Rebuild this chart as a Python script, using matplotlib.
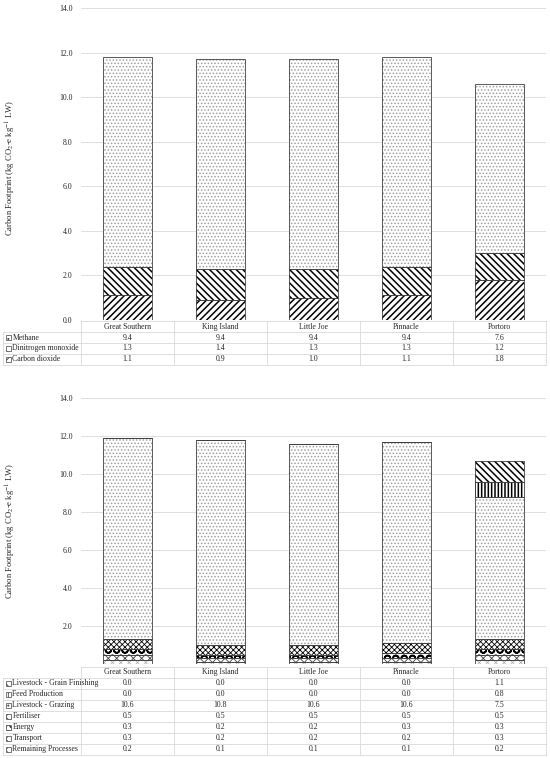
import numpy as np
import matplotlib.pyplot as plt
from matplotlib.lines import Line2D
from matplotlib.patches import Rectangle

sites = ["Great Southern", "King Island", "Little Joe", "Pinnacle", "Portoro"]

# top chart: gases (stack order bottom -> top)
gas_names = ["Carbon dioxide", "Dinitrogen monoxide", "Methane"]
carbon_dioxide = [1.1, 0.9, 1.0, 1.1, 1.8]
dinitrogen_monoxide = [1.3, 1.4, 1.3, 1.3, 1.2]
methane = [9.4, 9.4, 9.4, 9.4, 7.6]

# bottom chart: processes (stack order bottom -> top)
proc_names = ["Remaining Processes", "Transport", "Energy", "Fertiliser",
              "Livestock - Grazing", "Feed Production", "Livestock - Grain Finishing"]
remaining = [0.2, 0.1, 0.1, 0.1, 0.2]
transport = [0.3, 0.2, 0.2, 0.2, 0.3]
energy = [0.3, 0.2, 0.2, 0.3, 0.3]
fertiliser = [0.5, 0.5, 0.5, 0.5, 0.5]
grazing = [10.6, 10.8, 10.6, 10.6, 7.5]
feed = [0.0, 0.0, 0.0, 0.0, 0.8]
grain_finishing = [0.0, 0.0, 0.0, 0.0, 1.1]

yticks = [0, 2, 4, 6, 8, 10, 12, 14]

plt.rcParams['font.family'] = ['Liberation Serif', 'DejaVu Serif']
plt.rcParams['mathtext.fontset'] = 'stix'
TXT = '#262626'
GRID = '#d9d9d9'
W, H = 550, 758
FS = 5.6

fig = plt.figure(figsize=(5.5, 7.58), dpi=100)

def fx(px):
    return px / W

def fy(py):
    return 1 - py / H

# hatch styles: (hatch, hatch colour, hatch linewidth)
gas_styles = [('/////', 'black', 1.1), ('\\\\\\\\\\', 'black', 1.1), ('.....', '#a0a0a0', 0.7)]
proc_styles = [('xxxx', '#a8a8a8', 0.5), ('xxxx', '#404040', 0.6), ('OO', 'black', 1.2),
               ('xxxxxx', 'black', 0.6), ('.....', '#a0a0a0', 0.7),
               ('|||||', 'black', 1.1), ('\\\\\\\\\\', 'black', 1.1)]

col_x0 = 81
col_w = 93
left_x0 = 3


def stacked(ax, series, styles):
    x = np.arange(len(sites))
    bottom = np.zeros(len(sites))
    for vals, (h, hc, lw) in zip(series, styles):
        vals = np.array(vals)
        plt.rcParams['hatch.linewidth'] = lw
        ax.bar(x, vals, 0.52, bottom=bottom, color='white', edgecolor=hc,
               hatch=h, linewidth=0, zorder=2)
        ax.bar(x, vals, 0.52, bottom=bottom, fill=False, edgecolor='#404040',
               linewidth=0.6, zorder=3)
        bottom += vals
    ax.set_xlim(-0.5, len(sites) - 0.5)
    ax.set_ylim(0, 14)
    ax.set_yticks(yticks)
    ax.set_yticklabels([f"{v:.1f}" for v in yticks])
    ax.set_xticks([])
    ax.tick_params(axis='y', length=0, labelsize=FS, labelcolor=TXT, pad=6)
    ax.grid(axis='y', color=GRID, linewidth=0.6, zorder=0)
    ax.set_axisbelow(True)
    for s in ax.spines.values():
        s.set_visible(False)


def table(top_px, row_h, names, series, styles):
    right = col_x0 + col_w * len(sites)
    n = len(names)
    hy = top_px
    fig.add_artist(Line2D([fx(col_x0), fx(right)], [fy(hy), fy(hy)], color=GRID, lw=0.6))
    for i, s in enumerate(sites):
        fig.text(fx(col_x0 + col_w * (i + 0.5)), fy(hy + row_h / 2), s,
                 ha='center', va='center', fontsize=FS, color=TXT)
    bottom_px = top_px + row_h * (n + 1)
    for k in range(n + 1):
        yy = top_px + row_h * (k + 1)
        fig.add_artist(Line2D([fx(left_x0), fx(right)], [fy(yy), fy(yy)], color=GRID, lw=0.6))
    for i in range(len(sites) + 1):
        xx = col_x0 + col_w * i
        fig.add_artist(Line2D([fx(xx), fx(xx)], [fy(top_px), fy(bottom_px)], color=GRID, lw=0.6))
    fig.add_artist(Line2D([fx(left_x0), fx(left_x0)], [fy(top_px + row_h), fy(bottom_px)],
                          color=GRID, lw=0.6))
    # rows listed top -> bottom in reverse stack order
    for r, idx in enumerate(range(n - 1, -1, -1)):
        cy = top_px + row_h * (r + 1.5)
        h, hc, lw = styles[idx]
        plt.rcParams['hatch.linewidth'] = min(lw, 0.6)
        key = Rectangle((fx(6), fy(cy + 2.5)), fx(5), 5 / H, transform=fig.transFigure,
                        facecolor='white', edgecolor='#404040', hatch=h[:3], linewidth=0.5)
        fig.add_artist(key)
        fig.text(fx(12.5), fy(cy), names[idx], ha='left', va='center', fontsize=FS, color=TXT)
        for i, v in enumerate(series[idx]):
            fig.text(fx(col_x0 + col_w * (i + 0.5)), fy(cy), f"{v:.1f}",
                     ha='center', va='center', fontsize=FS, color=TXT)


ylabel = "Carbon Footprint (kg CO$_2$-e kg$^{-1}$ LW)"

# top chart
ax1 = fig.add_axes([fx(col_x0), fy(320), fx(col_w * 5), (320 - 8) / H])
gas_series = [carbon_dioxide, dinitrogen_monoxide, methane]
stacked(ax1, gas_series, gas_styles)
table(321, 11, gas_names, gas_series, gas_styles)
fig.text(fx(11), fy(168), ylabel, rotation=90, ha='center', va='center', fontsize=6.2, color=TXT)

# bottom chart
ax2 = fig.add_axes([fx(col_x0), fy(664), fx(col_w * 5), (664 - 398) / H])
proc_series = [remaining, transport, energy, fertiliser, grazing, feed, grain_finishing]
stacked(ax2, proc_series, proc_styles)
ax2.get_yticklabels()[0].set_visible(False)
table(666.5, 11, proc_names, proc_series, proc_styles)
fig.text(fx(11), fy(531), ylabel, rotation=90, ha='center', va='center', fontsize=6.2, color=TXT)

fig.savefig("out.png", dpi=100)
